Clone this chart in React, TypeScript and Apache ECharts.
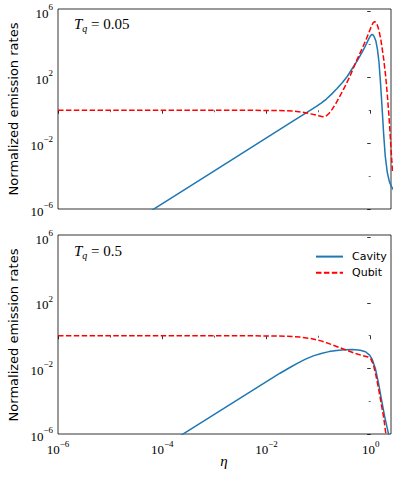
import React, { useEffect, useRef } from "react";
import * as echarts from "echarts";

// ---- axis ticks (exponents of 10) ----
const xMajorTicks = [-6, -4, -2, 0];
const xMinorTicks = [-5, -3, -1];
const yMajorTicks = [-6, -2, 2, 6];
const yMinorTicks = [-4, 0, 4];
const xRange = [-6, 0.39];
const yRange = [-6, 6.15];

// ---- data: log10(eta) and log10(normalized rate) ----
// Panel 1: T_q = 0.05
const topCavityLogEta = [-4.5, -3, -2, -1.5, -1.2, -1.05, -0.95, -0.85, -0.75, -0.65, -0.55, -0.45, -0.35, -0.25, -0.15, -0.08, -0.03, 0.0, 0.02, 0.045, 0.07, 0.1, 0.13, 0.16, 0.19, 0.22, 0.25, 0.28, 0.32, 0.36, 0.4, 0.45];
const topCavityLogRate = [-6.68, -3.68, -1.68, -0.68, -0.08, 0.22, 0.43, 0.68, 0.98, 1.3, 1.65, 2.05, 2.55, 3.05, 3.6, 4.05, 4.38, 4.53, 4.6, 4.58, 4.45, 4.2, 3.7, 2.9, 1.6, 0.1, -1.5, -2.8, -3.8, -4.35, -4.64, -4.9];
const topQubitLogEta = [-6, -3, -2, -1.6, -1.45, -1.3, -1.15, -1.0, -0.92, -0.86, -0.8, -0.74, -0.67, -0.6, -0.5, -0.4, -0.3, -0.2, -0.1, -0.03, 0.02, 0.05, 0.075, 0.1, 0.13, 0.16, 0.2, 0.25, 0.29, 0.32, 0.35, 0.37, 0.39, 0.42];
const topQubitLogRate = [0, 0, -0.01, -0.03, -0.06, -0.12, -0.22, -0.33, -0.39, -0.36, -0.2, 0.05, 0.4, 0.8, 1.4, 2.05, 2.8, 3.5, 4.2, 4.75, 5.15, 5.32, 5.38, 5.33, 5.15, 4.85, 4.2, 3.1, 2.0, 0.9, -0.3, -1.3, -2.3, -3.8];

// Panel 2: T_q = 0.5
const botCavityLogEta = [-4, -3, -2, -1.74, -1.55, -1.4, -1.25, -1.1, -0.95, -0.8, -0.65, -0.5, -0.35, -0.2, -0.1, -0.02, 0.03, 0.09, 0.15, 0.21, 0.27, 0.34, 0.38];
const botCavityLogRate = [-6.8, -4.8, -2.8, -2.29, -1.94, -1.67, -1.43, -1.23, -1.08, -0.97, -0.9, -0.86, -0.84, -0.89, -0.98, -1.18, -1.45, -2.0, -2.9, -3.95, -4.95, -5.96, -6.6];
const botQubitLogEta = [-6, -3, -2, -1.6, -1.36, -1.15, -0.97, -0.8, -0.6, -0.45, -0.3, -0.15, -0.05, 0.0, 0.05, 0.1, 0.15, 0.2, 0.25, 0.29, 0.32];
const botQubitLogRate = [0, 0, -0.01, -0.03, -0.08, -0.17, -0.3, -0.48, -0.72, -0.9, -1.08, -1.22, -1.3, -1.4, -1.75, -2.4, -3.2, -4.1, -5.0, -5.96, -6.6];

const seriesNames = ["Cavity", "Qubit"];
const panelLabels = ["0.05", "0.5"];
const yTitle = "Normalized emission rates";
const xTitle = "η";

const zip = (a: number[], b: number[]) => a.map((v, i) => [v, b[i]]);

const BLUE = "#1f77b4";
const RED = "#ff0000";
const SERIF = "'Liberation Serif', 'DejaVu Serif', serif";
const SANS = "'DejaVu Sans', sans-serif";

const powLabel = (v: number) => {
  const r = Math.round(v);
  const e = r < 0 ? "\u2212" + -r : String(r);
  return "{b|10}{s|" + e + "}";
};

const labelRich = {
  b: { fontFamily: SERIF, fontSize: 13, color: "#000", verticalAlign: "bottom", lineHeight: 17 },
  s: { fontFamily: SERIF, fontSize: 9, color: "#000", verticalAlign: "top", lineHeight: 10 },
};

export default function App() {
  const ref = useRef<HTMLDivElement>(null);
  useEffect(() => {
    document.body.style.margin = "0";
    const chart = echarts.init(ref.current!, null, { renderer: "svg" });

    const grids = [
      { left: 58, top: 9, width: 333, height: 200 },
      { left: 58, top: 235, width: 333, height: 199 },
    ];

    const xAxes: any[] = [];
    const yAxes: any[] = [];
    grids.forEach((_, gi) => {
      xAxes.push({
        type: "value", gridIndex: gi, position: "bottom", min: xRange[0], max: xRange[1],
        axisLine: { show: false }, splitLine: { show: false },
        axisTick: { show: true, customValues: xMajorTicks, length: 3.5, lineStyle: { color: "#000", width: 0.8 } },
        axisLabel: gi === 1
          ? { show: true, customValues: xMajorTicks, margin: 5, formatter: powLabel, rich: labelRich }
          : { show: false },
      });
      xAxes.push({
        type: "value", gridIndex: gi, position: "bottom", min: xRange[0], max: xRange[1],
        axisLine: { show: false }, splitLine: { show: false },
        axisTick: { show: true, customValues: xMinorTicks, length: 2, lineStyle: { color: "#000", width: 0.6 } },
        axisLabel: { show: false },
      });
      yAxes.push({
        type: "value", gridIndex: gi, position: "left", min: yRange[0], max: yRange[1],
        axisLine: { show: false }, splitLine: { show: false },
        axisTick: { show: true, customValues: yMajorTicks, length: 3.5, lineStyle: { color: "#000", width: 0.8 } },
        axisLabel: { show: true, customValues: yMajorTicks, margin: 5, formatter: powLabel, rich: labelRich },
      });
      yAxes.push({
        type: "value", gridIndex: gi, position: "left", min: yRange[0], max: yRange[1],
        axisLine: { show: false }, splitLine: { show: false },
        axisTick: { show: true, customValues: yMinorTicks, length: 2, lineStyle: { color: "#000", width: 0.6 } },
        axisLabel: { show: false },
      });
    });

    const lineSeries = (name: string, data: number[][], gi: number, color: string, dashed: boolean) => ({
      type: "line", name, data, xAxisIndex: gi * 2, yAxisIndex: gi * 2,
      symbol: "none", showSymbol: false, smooth: false, clip: true,
      lineStyle: { color, width: 1.5, type: dashed ? [5.5, 2.4] : "solid" },
      itemStyle: { color },
    });

    const panelText = (i: number, y: number) => ({
      type: "text", x: 74, y,
      style: {
        text: "{t|T}{q|q}{n| = " + panelLabels[i] + "}",
        textVerticalAlign: "middle",
        rich: {
          t: { fontFamily: SERIF, fontStyle: "italic", fontSize: 15, color: "#000", verticalAlign: "top", lineHeight: 17 },
          q: { fontFamily: SERIF, fontStyle: "italic", fontSize: 10, color: "#000", verticalAlign: "bottom", lineHeight: 9 },
          n: { fontFamily: SERIF, fontSize: 15, color: "#000", verticalAlign: "top", lineHeight: 17 },
        },
      },
    });

    chart.setOption({
      animation: false,
      backgroundColor: "#fff",
      grid: grids.map((g) => ({ ...g, show: true, borderColor: "#000", borderWidth: 0.8, backgroundColor: "transparent" })),
      xAxis: xAxes,
      yAxis: yAxes,
      legend: {
        data: seriesNames, orient: "vertical", left: 310, top: 246,
        itemWidth: 27, itemHeight: 14, itemGap: 5,
        itemStyle: { opacity: 0 },
        textStyle: { fontFamily: SANS, fontSize: 11, color: "#000", padding: [0, 0, 0, 4] },
      },
      series: [
        lineSeries(seriesNames[0], zip(topCavityLogEta, topCavityLogRate), 0, BLUE, false),
        lineSeries(seriesNames[1], zip(topQubitLogEta, topQubitLogRate), 0, RED, true),
        lineSeries(seriesNames[0], zip(botCavityLogEta, botCavityLogRate), 1, BLUE, false),
        lineSeries(seriesNames[1], zip(botQubitLogEta, botQubitLogRate), 1, RED, true),
      ],
      graphic: [
        {
          type: "text", x: 13, y: 109, rotation: Math.PI / 2,
          style: { text: yTitle, fontFamily: SANS, fontSize: 13, fill: "#000", textAlign: "center", textVerticalAlign: "middle" },
        },
        {
          type: "text", x: 13, y: 335, rotation: Math.PI / 2,
          style: { text: yTitle, fontFamily: SANS, fontSize: 13, fill: "#000", textAlign: "center", textVerticalAlign: "middle" },
        },
        {
          type: "text", x: 224, y: 461,
          style: { text: xTitle, fontFamily: SERIF, fontStyle: "italic", fontSize: 15, fill: "#000", textAlign: "center", textVerticalAlign: "middle" },
        },
        panelText(0, 25),
        panelText(1, 252),
      ],
    });
    return () => chart.dispose();
  }, []);
  return <div ref={ref} style={{ width: 399, height: 479 }} />;
}
